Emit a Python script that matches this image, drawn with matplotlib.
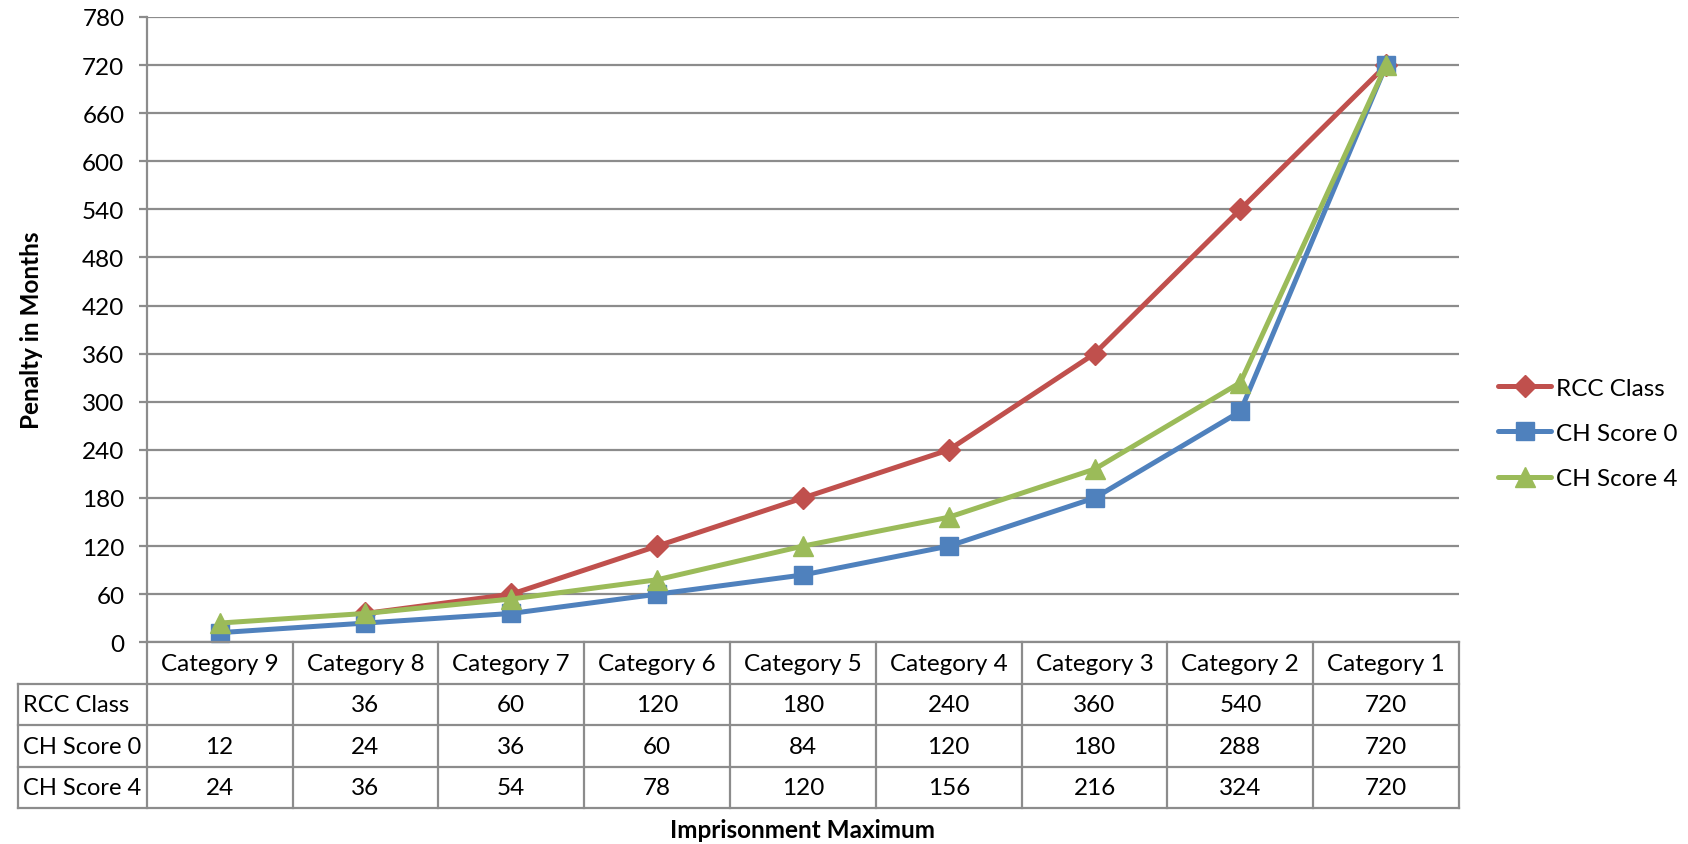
import matplotlib
matplotlib.use("Agg")
import matplotlib.pyplot as plt
import matplotlib.transforms as mtransforms
from matplotlib.lines import Line2D
import numpy as np

# ---- data ----
categories = ["Category 9", "Category 8", "Category 7", "Category 6", "Category 5",
              "Category 4", "Category 3", "Category 2", "Category 1"]
series_names = ["RCC Class", "CH Score 0", "CH Score 4"]
rcc_class = [None, 36, 60, 120, 180, 240, 360, 540, 720]
ch_score_0 = [12, 24, 36, 60, 84, 120, 180, 288, 720]
ch_score_4 = [24, 36, 54, 78, 120, 156, 216, 324, 720]
y_ticks = list(range(0, 781, 60))

series_values = [rcc_class, ch_score_0, ch_score_4]
colors = ["#C0504D", "#4F81BD", "#9BBB59"]
markers = ["D", "s", "^"]
marker_sizes = [11, 13, 15]
grid_color = "#8C8C8C"

plt.rcParams["font.family"] = ["Lato", "DejaVu Sans"]
FS = 17.5
LABEL_FS = 17.5

fig = plt.figure(figsize=(16.88, 8.45), dpi=100)
ax = fig.add_axes([0.0869, 0.2387, 0.7775, 0.74])

x = np.arange(len(categories))
for name, vals, c, m, ms in zip(series_names, series_values, colors, markers, marker_sizes):
    y = np.array([np.nan if v is None else v for v in vals], dtype=float)
    ax.plot(x, y, color=c, lw=3.6, marker=m, markersize=ms, label=name,
            solid_capstyle="round", solid_joinstyle="round", clip_on=False)

ax.set_xlim(-0.5, len(categories) - 0.5)
ax.set_ylim(0, 780)
ax.set_yticks(y_ticks)
ax.set_xticks([])
ax.yaxis.grid(True, color=grid_color, lw=1.6)
ax.set_axisbelow(True)
for s in ["top", "right"]:
    ax.spines[s].set_visible(False)
for s in ["left", "bottom"]:
    ax.spines[s].set_color(grid_color)
    ax.spines[s].set_linewidth(1.6)
ax.tick_params(axis="y", length=6, width=1.6, color=grid_color, pad=10, labelsize=FS)

ax.set_ylabel("Penalty in Months", fontsize=LABEL_FS, fontweight="bold", labelpad=28)

# ---- data table under the x axis ----
trans = mtransforms.blended_transform_factory(ax.transData, ax.transAxes)
row_h = 0.0664
label_left = -0.5 - 0.88
n = len(categories)
line_kw = dict(color=grid_color, lw=1.6, transform=trans, clip_on=False)

# vertical cell borders
for i in range(n + 1):
    ax.add_line(Line2D([i - 0.5, i - 0.5], [0, -4 * row_h], **line_kw))
ax.add_line(Line2D([label_left, label_left], [-row_h, -4 * row_h], **line_kw))
# horizontal cell borders
for r in range(1, 5):
    ax.add_line(Line2D([label_left, n - 0.5], [-r * row_h, -r * row_h], **line_kw))

for i, cat in enumerate(categories):
    ax.text(i, -0.5 * row_h, cat, transform=trans, ha="center", va="center",
            fontsize=FS, clip_on=False)
for r, (name, vals) in enumerate(zip(series_names, series_values)):
    yc = -(r + 1.5) * row_h
    ax.text(label_left + 0.03, yc, name, transform=trans, ha="left", va="center",
            fontsize=FS - 0.5, clip_on=False)
    for i, v in enumerate(vals):
        if v is not None:
            ax.text(i, yc, str(v), transform=trans, ha="center", va="center",
                    fontsize=FS, clip_on=False)

ax.text((n - 1) / 2, -4 * row_h - 0.033, "Imprisonment Maximum", transform=trans,
        ha="center", va="center", fontsize=LABEL_FS, fontweight="bold")

fig.legend(loc="center left", bbox_to_anchor=(0.8874, 0.486), frameon=False,
           fontsize=FS, borderpad=0, borderaxespad=0, handlelength=2.2,
           handletextpad=0.2, labelspacing=1.0)

fig.savefig("out.png", dpi=100, facecolor="white")
